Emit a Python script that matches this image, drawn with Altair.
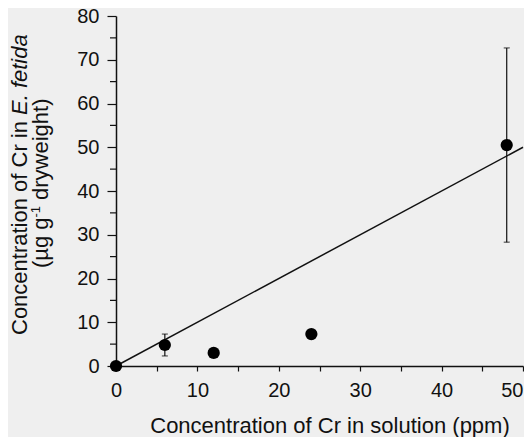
import altair as alt
import pandas as pd

# ---- data ----
conc = [0, 6, 12, 24, 48]            # Cr in solution (ppm)
cr = [0, 4.8, 3.0, 7.3, 50.5]        # Cr in E. fetida (ug/g dry weight)
err = [0, 2.5, 0, 0, 22.2]           # error bar half-length
fit_x = [0, 50]
fit_y = [0, 50]
x_ticks = [0, 5, 10, 15, 20, 25, 30, 35, 40, 45, 50]
y_major = [0, 10, 20, 30, 40, 50, 60, 70, 80]
y_minor = [5, 15, 25, 35, 45, 55, 65, 75]

x_title = "Concentration of Cr in solution (ppm)"
y_title_a = "Concentration of Cr in"
y_title_b = "E. fetida"
y_title_c = "(\u00b5g g"
y_title_d = "-1"
y_title_e = "dryweight)"

FONT = "Liberation Sans"
INK = "#111111"

pts = pd.DataFrame({"conc": conc, "cr": cr, "err": err})
pts["lo"] = pts["cr"] - pts["err"]
pts["hi"] = pts["cr"] + pts["err"]
eb = pts[pts["err"] > 0]

xs = alt.Scale(domain=[0, 50], nice=False, zero=False)
ys = alt.Scale(domain=[0, 80], nice=False, zero=False)

common_axis = dict(grid=False, title=None, domainColor=INK, domainWidth=1.5,
                   tickColor=INK, tickWidth=1.2, labelFont=FONT, labelFontSize=20,
                   labelColor=INK)
xaxis = alt.Axis(values=x_ticks,
                 labelExpr="datum.value % 10 == 0 ? datum.label : ''",
                 labelFlush=False,
                 labelAlign=alt.expr("datum.value == 50 ? 'right' : 'center'"),
                 tickSize=5, labelPadding=9, **common_axis)
yaxis = alt.Axis(values=y_major, tickSize=9, labelPadding=8, labelFlush=False,
                 **common_axis)


def X(f):
    return alt.X(f, type="quantitative", scale=xs, axis=xaxis)


def Y(f):
    return alt.Y(f, type="quantitative", scale=ys, axis=yaxis)


fit = alt.Chart(pd.DataFrame({"x": fit_x, "y": fit_y})).mark_line(
    color=INK, strokeWidth=1.5).encode(x=X("x"), y=Y("y"))

bars = alt.Chart(eb).mark_rule(color=INK, strokeWidth=1.2).encode(
    x=X("conc"), y=Y("lo"), y2="hi:Q")
cap_lo = alt.Chart(eb).mark_tick(color=INK, size=6, thickness=1.2,
                                 orient="horizontal").encode(x=X("conc"), y=Y("lo"))
cap_hi = alt.Chart(eb).mark_tick(color=INK, size=6, thickness=1.2,
                                 orient="horizontal").encode(x=X("conc"), y=Y("hi"))
dots = alt.Chart(pts).mark_circle(size=150, color="#000000", opacity=1).encode(
    x=X("conc"), y=Y("cr"))

minor = alt.Chart(pd.DataFrame({"v": y_minor})).mark_rule(
    color=INK, strokeWidth=1.2).encode(y=Y("v"), x=alt.value(0), x2=alt.value(-6))


def txt(s, x, y, size=22, style="normal", angle=270, align="left"):
    return alt.Chart(pd.DataFrame({"t": [s]})).mark_text(
        font=FONT, fontSize=size, fontStyle=style, angle=angle, align=align,
        baseline="alphabetic", color=INK).encode(
        text="t:N", x=alt.value(x), y=alt.value(y))


t_x = txt(x_title, 214, 417, angle=0, align="center")
t_a = txt(y_title_a, -89, 319)
t_b = txt(y_title_b, -89, 99, style="italic")
t_c = txt(y_title_c, -68, 252)
t_d = txt(y_title_d, -76, 201.5, size=13)
t_e = txt(y_title_e, -68, 184)

chart = alt.layer(fit, bars, cap_lo, cap_hi, minor, dots,
                  t_x, t_a, t_b, t_c, t_d, t_e).properties(
    width=407, height=350,
    padding={"left": 108, "top": 8, "right": 1, "bottom": 71},
    autosize=alt.AutoSizeParams(type="none"),
).configure(background="#efefef").configure_view(stroke=None)

chart.save("out.html", embed_options={"renderer": "svg", "actions": False})
